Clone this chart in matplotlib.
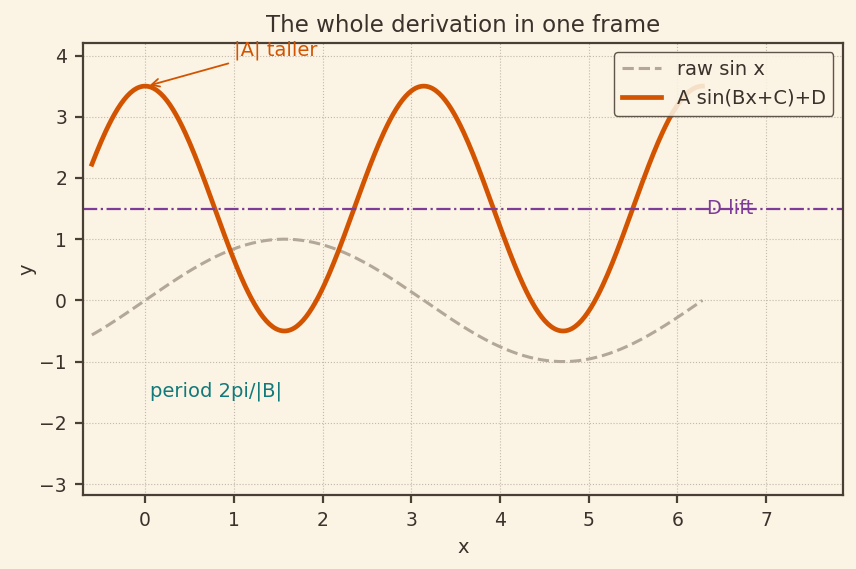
import numpy as np
import matplotlib
matplotlib.use("Agg")
from matplotlib import pyplot as plt

# curve parameters
amp = 2.0
freq = 2.0
phase = np.pi / 2
lift = 1.5
x_start, x_end = -0.6, 2 * np.pi

x_ticks = [0, 1, 2, 3, 4, 5, 6, 7]
y_ticks = [-3, -2, -1, 0, 1, 2, 3, 4]

bg = "#fbf3e4"
ink = "#4a3f35"

plt.rcParams["font.family"] = "DejaVu Sans"

x = np.linspace(x_start, x_end, 400)
raw = np.sin(x)
fitted = amp * np.sin(freq * x + phase) + lift

fig, ax = plt.subplots(figsize=(8.56, 5.69), dpi=100)
fig.patch.set_facecolor(bg)
ax.set_facecolor(bg)

ax.plot(x, raw, linestyle="--", color="#b3a898", linewidth=2.2, label="raw sin x")
ax.plot(x, fitted, color="#d35400", linewidth=3.4, label="A sin(Bx+C)+D")
ax.axhline(y=lift, linestyle="-.", color="#7d3c98", linewidth=1.6)

ax.text(6.33, lift, "D lift", color="#7d3c98", fontsize=14, va="center", zorder=1)
ax.text(0.05, -1.48, "period 2pi/|B|", color="#117a7a", fontsize=14, va="center")
ax.annotate(
    "|A| taller",
    xy=(0.02, amp + lift),
    xytext=(1.0, 4.0),
    color="#d35400",
    fontsize=14,
    arrowprops=dict(arrowstyle="->", color="#d35400", lw=1.3),
)

ax.set_xlim(-0.7, 7.87)
ax.set_ylim(-3.18, 4.21)
ax.set_xticks(x_ticks)
ax.set_yticks(y_ticks)

ax.set_title("The whole derivation in one frame", fontsize=16.5, color="#3a322b", pad=8)
ax.set_xlabel("x", fontsize=14, color="#3a322b", labelpad=6)
ax.set_ylabel("y", fontsize=14, color="#3a322b", labelpad=2)
ax.tick_params(colors=ink, labelcolor="#3a322b", labelsize=13.5, width=1.6, length=5.5, pad=6)
for spine in ax.spines.values():
    spine.set_color(ink)
    spine.set_linewidth(1.6)
ax.grid(True, linestyle=":", color="#c2b8ab", linewidth=0.8)

leg = ax.legend(loc="upper right", fontsize=14, facecolor=bg, edgecolor=ink, framealpha=0.88)
for t in leg.get_texts():
    t.set_color("#3a322b")

fig.subplots_adjust(left=0.097, right=0.985, top=0.925, bottom=0.13)
fig.savefig("out.png", dpi=100, facecolor=bg)
